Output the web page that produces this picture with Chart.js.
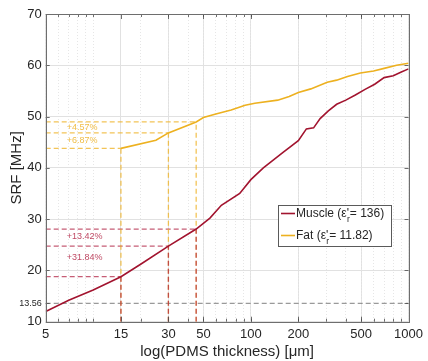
<!DOCTYPE html>
<html>
<head>
<meta charset="utf-8">
<script src="https://cdn.jsdelivr.net/npm/chart.js@4"></script>
<style>
  html, body { margin: 0; padding: 0; background: #ffffff; }
  #wrap { width: 428px; height: 361px; }
</style>
</head>
<body>
<div id="wrap"><canvas id="c" width="428" height="361"></canvas></div>
<script>
// Self-resonant frequency of the coil versus PDMS thickness, for two tissues
const muscleThickness = [5, 7, 10, 15, 20, 30, 45, 55, 65, 85, 100, 120, 160, 200, 225, 250, 275, 310, 350, 400, 460, 530, 610, 700, 800, 900, 1000];
const muscleSRF = [12.0, 14.2, 16.2, 18.77, 21.2, 24.75, 28.07, 30.2, 32.7, 35.0, 37.7, 40.0, 43.0, 45.3, 47.6, 47.8, 49.6, 51.1, 52.4, 53.2, 54.2, 55.3, 56.3, 57.6, 57.95, 58.7, 59.3];
const fatThickness = [15, 25, 30, 45, 50, 60, 75, 92, 106, 148, 175, 200, 240, 305, 350, 410, 495, 600, 700, 840, 1000];
const fatSRF = [43.8, 45.4, 46.81, 48.95, 49.8, 50.5, 51.3, 52.2, 52.6, 53.2, 53.9, 54.7, 55.4, 56.7, 57.1, 57.8, 58.5, 58.9, 59.4, 60.0, 60.4];

// Reference thicknesses and relative SRF gains between them
const refThickness = [15, 30, 45];
const muscleBase = 18.77;
const muscleGain = [31.84, 13.42];
const fatBase = 43.8;
const fatGain = [6.87, 4.57];
const ismFrequency = 13.56;

// Axis ticks
const xTickValues = [5, 15, 30, 50, 100, 200, 500, 1000];
const yTickValues = [10, 13.56, 20, 30, 40, 50, 60, 70];

const muscleLabel = { name: 'Muscle (ε\'', sub: 'r', tail: '= 136)' };
const fatLabel = { name: 'Fat (ε\'', sub: 'r', tail: '= 11.82)' };

// Minor log grid positions (1..9 per decade)
const xMinorValues = [];
for (let dec = 1; dec <= 100; dec *= 10) {
  for (let d = 1; d <= 9; d++) {
    const v = d * dec;
    if (v >= 5 && v <= 1000) xMinorValues.push(v);
  }
}
xMinorValues.push(1000);

// Reference values derived from the stated gains
function chain(base, gains) {
  const out = [base];
  gains.forEach(g => out.push(out[out.length - 1] * (1 + g / 100)));
  return out;
}
const muscleRef = chain(muscleBase, muscleGain);
const fatRef = chain(fatBase, fatGain);

const RED = '#A2142F';
const YELLOW = '#EDB120';
const RED_DASH = 'rgba(176, 30, 64, 0.72)';
const YELLOW_DASH = 'rgba(240, 180, 40, 0.78)';
const GREY_DASH = 'rgba(120, 120, 120, 0.75)';
const FONT = "'Liberation Sans', Arial, Helvetica, sans-serif";
const TEXT = '#262626';

function line(points, color, width, dash) {
  return {
    data: points,
    borderColor: color,
    borderWidth: width,
    borderDash: dash || [],
    pointRadius: 0,
    fill: false,
    tension: 0
  };
}

const zip = (xs, ys) => xs.map((x, i) => ({ x: x, y: ys[i] }));

const datasets = [];
// main curves (drawn on top)
datasets.push(line(zip(muscleThickness, muscleSRF), RED, 1.6));
datasets.push(line(zip(fatThickness, fatSRF), YELLOW, 1.6));
// vertical guides: red below the muscle value, yellow up to the fat value
refThickness.forEach((t, i) => {
  datasets.push(line([{ x: t, y: 10 }, { x: t, y: muscleRef[i] }], RED_DASH, 1.3, [5, 3]));
});
refThickness.forEach((t, i) => {
  datasets.push(line([{ x: t, y: 10 }, { x: t, y: fatRef[i] }], YELLOW_DASH, 1.3, [5, 3]));
});
// horizontal guides from the left edge
refThickness.forEach((t, i) => {
  datasets.push(line([{ x: 5, y: muscleRef[i] }, { x: t, y: muscleRef[i] }], RED_DASH, 1.3, [5, 3]));
  datasets.push(line([{ x: 5, y: fatRef[i] }, { x: t, y: fatRef[i] }], YELLOW_DASH, 1.3, [5, 3]));
});
// 13.56 MHz ISM line
datasets.push(line([{ x: 5, y: ismFrequency }, { x: 1000, y: ismFrequency }], GREY_DASH, 1.2, [5, 3]));

// Axes box, inward tick marks, gain labels and legend
const decorations = {
  id: 'decorations',
  afterDatasetsDraw(chart) {
    const { ctx, chartArea: a, scales } = chart;
    const xs = scales.x, ys = scales.y;
    ctx.save();

    // gain labels
    ctx.font = '9px ' + FONT;
    ctx.textAlign = 'left';
    ctx.textBaseline = 'middle';
    const lx = xs.getPixelForValue(6.8);
    fatGain.forEach((g, i) => {
      const y = (ys.getPixelForValue(fatRef[i]) + ys.getPixelForValue(fatRef[i + 1])) / 2;
      ctx.fillStyle = 'rgba(238, 182, 50, 0.9)';
      ctx.fillText('+' + g.toFixed(2) + '%', lx, y);
    });
    const redNudge = [-4, -1.5];
    muscleGain.forEach((g, i) => {
      const y = (ys.getPixelForValue(muscleRef[i]) + ys.getPixelForValue(muscleRef[i + 1])) / 2 + redNudge[i];
      ctx.fillStyle = 'rgba(180, 40, 72, 0.85)';
      ctx.fillText('+' + g.toFixed(2) + '%', lx, y);
    });

    // inward tick marks
    ctx.strokeStyle = '#4a4a4a';
    ctx.lineWidth = 0.8;
    ctx.beginPath();
    xMinorValues.forEach(v => {
      const px = Math.round(xs.getPixelForValue(v)) + 0.5;
      ctx.moveTo(px, a.bottom); ctx.lineTo(px, a.bottom - 3);
      ctx.moveTo(px, a.top); ctx.lineTo(px, a.top + 3);
    });
    xTickValues.forEach(v => {
      const px = Math.round(xs.getPixelForValue(v)) + 0.5;
      ctx.moveTo(px, a.bottom); ctx.lineTo(px, a.bottom - 5);
      ctx.moveTo(px, a.top); ctx.lineTo(px, a.top + 5);
    });
    yTickValues.forEach(v => {
      const py = Math.round(ys.getPixelForValue(v)) + 0.5;
      ctx.moveTo(a.left, py); ctx.lineTo(a.left + 4, py);
      ctx.moveTo(a.right, py); ctx.lineTo(a.right - 4, py);
    });
    ctx.stroke();

    // axes box
    ctx.strokeStyle = '#6e6e6e';
    ctx.lineWidth = 1;
    ctx.strokeRect(Math.round(a.left) + 0.5, Math.round(a.top) + 0.5,
      Math.round(a.right - a.left), Math.round(a.bottom - a.top));

    // legend
    const bx = 278.5, by = 205.5, bw = 113, bh = 41;
    ctx.fillStyle = '#ffffff';
    ctx.fillRect(bx, by, bw, bh);
    ctx.strokeStyle = '#5a5a5a';
    ctx.lineWidth = 1;
    ctx.strokeRect(bx, by, bw, bh);
    const rows = [
      { label: muscleLabel, color: RED, y: 213.5 },
      { label: fatLabel, color: YELLOW, y: 235.5 }
    ];
    rows.forEach(r => {
      ctx.strokeStyle = r.color;
      ctx.lineWidth = 1.6;
      ctx.beginPath();
      ctx.moveTo(281, r.y); ctx.lineTo(295, r.y);
      ctx.stroke();
      ctx.fillStyle = TEXT;
      ctx.textAlign = 'left';
      ctx.textBaseline = 'middle';
      let x = 296;
      ctx.font = '12px ' + FONT;
      ctx.fillText(r.label.name, x, r.y);
      x += ctx.measureText(r.label.name).width - 2;
      ctx.font = '8.5px ' + FONT;
      ctx.fillText(r.label.sub, x, r.y + 6);
      x += ctx.measureText(r.label.sub).width;
      ctx.font = '12px ' + FONT;
      ctx.fillText(r.label.tail, x, r.y);
    });
    ctx.restore();
  }
};

new Chart(document.getElementById('c'), {
  type: 'line',
  data: { datasets: datasets },
  options: {
    responsive: false,
    animation: false,
    events: [],
    layout: { padding: { top: 14, right: 15.7, left: 0, bottom: 0 } },
    plugins: { legend: { display: false }, tooltip: { enabled: false } },
    scales: {
      x: {
        type: 'logarithmic',
        min: 5,
        max: 1000,
        position: 'bottom',
        afterBuildTicks: s => { s.ticks = xTickValues.map(v => ({ value: v })); },
        afterFit: s => { s.height = 39.3; },
        ticks: {
          autoSkip: false,
          maxRotation: 0,
          padding: 5,
          color: TEXT,
          font: { family: FONT, size: 13 },
          callback: v => String(v)
        },
        grid: { color: '#e1e1e1', lineWidth: 1, drawTicks: false },
        border: { display: false },
        title: {
          display: true,
          text: 'log(PDMS thickness) [μm]',
          color: TEXT,
          font: { family: FONT, size: 15 },
          padding: { top: 0, bottom: 0.5 }
        }
      },
      xMinor: {
        type: 'logarithmic',
        min: 5,
        max: 1000,
        position: 'bottom',
        afterBuildTicks: s => { s.ticks = xMinorValues.map(v => ({ value: v })); },
        afterFit: s => { s.height = 0; },
        ticks: { display: false, autoSkip: false },
        grid: { color: '#e6e6e6', lineWidth: 1, drawTicks: false },
        border: { display: false, dash: [1, 2] }
      },
      y: {
        type: 'linear',
        min: 10,
        max: 70,
        afterBuildTicks: s => { s.ticks = yTickValues.map(v => ({ value: v })); },
        afterFit: s => { s.width = 45.7; },
        ticks: {
          autoSkip: false,
          padding: 4,
          color: TEXT,
          font: ctx => ({ family: FONT, size: ctx.tick && ctx.tick.value === ismFrequency ? 9 : 13 }),
          callback: v => String(v)
        },
        grid: {
          color: ctx => (ctx.tick && ctx.tick.value === ismFrequency) ? 'rgba(0,0,0,0)' : '#e1e1e1',
          lineWidth: 1,
          drawTicks: false
        },
        border: { display: false },
        title: {
          display: true,
          text: 'SRF [MHz]',
          color: TEXT,
          font: { family: FONT, size: 15 },
          padding: { top: 8, bottom: 0 }
        }
      }
    }
  },
  plugins: [decorations]
});
</script>
</body>
</html>
